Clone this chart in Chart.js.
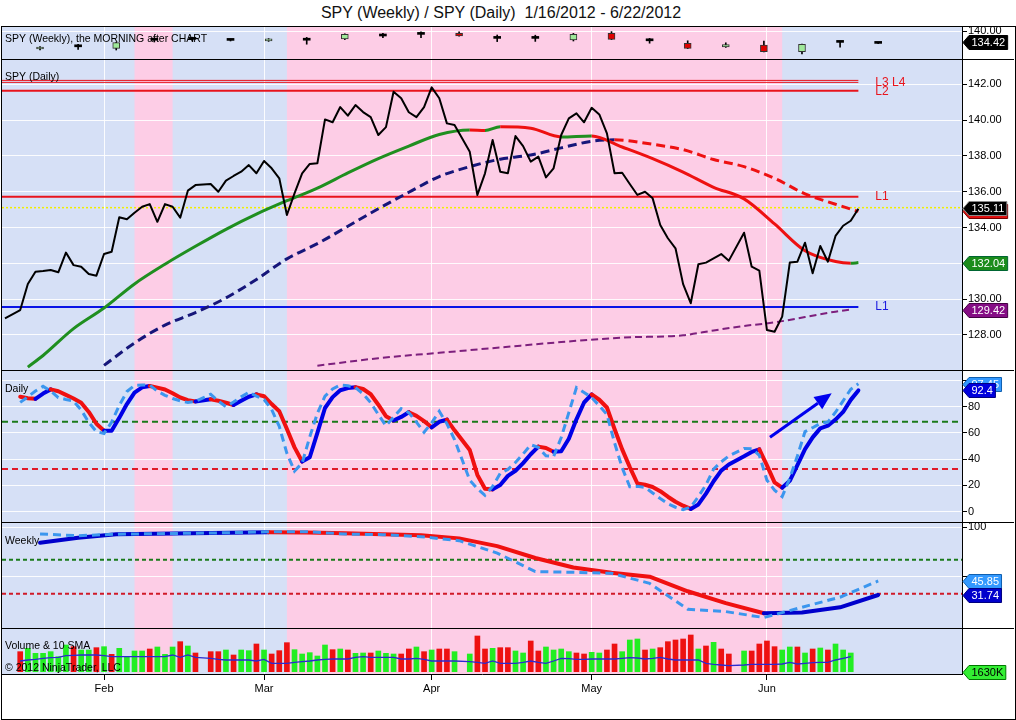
<!DOCTYPE html>
<html>
<head>
<meta charset="utf-8">
<title>SPY (Weekly) / SPY (Daily)</title>
<script src="https://cdn.jsdelivr.net/npm/chart.js@4.4.1/dist/chart.umd.min.js"></script>
<style>
  html, body { margin: 0; padding: 0; background: #fff; }
  #wrap { position: relative; width: 1016px; height: 720px; overflow: hidden; font-family: 'Liberation Sans', Arial, sans-serif; }
  #title { position: absolute; left: 0; top: 4px; width: 1002px; text-align: center; font-size: 16px; white-space: pre; color: #111; }
  #frame { position: absolute; left: 1px; top: 26px; width: 1013px; height: 692px; border: 1px solid #000; }
  .panel { position: absolute; left: 2px; width: 1012px; }
  .panel.sep { border-top: 1px solid #000; }
  canvas { display: block; }
</style>
</head>
<body>
<div id="wrap">
  <div id="title">SPY (Weekly) / SPY (Daily)  1/16/2012 - 6/22/2012</div>
  <div id="frame"></div>
  <div class="panel" style="top:27px;height:32px"><canvas id="strip"></canvas></div>
  <div class="panel sep" style="top:59px;height:310px"><canvas id="price"></canvas></div>
  <div class="panel sep" style="top:370px;height:151px"><canvas id="daily"></canvas></div>
  <div class="panel sep" style="top:522px;height:105px"><canvas id="weekly"></canvas></div>
  <div class="panel sep" style="top:628px;height:89px"><canvas id="volume"></canvas></div>
</div>
<script>
// ---- calendar (weekday slots counted from Mon 1/16/2012) ----
const holidays = ['2012-01-16', '2012-02-20', '2012-04-06', '2012-05-28'];
const monthLabels = ['Feb', 'Mar', 'Apr', 'May', 'Jun'];
const pinkBands = [[16, 21], [36, 101]];

// ---- daily closes, 1/13 .. 6/19 ----
const closes = [128.93,
  129.39,130.84,131.53,131.57,131.63,131.5,132.6,131.9,131.81,131.4,131.31,132.52,132.65,134.57,134.46,134.83,135.16,135.31,134.32,135.31,135.16,134.55,136.06,136.37,
  136.43,136.0,136.62,136.88,137.12,137.49,137.03,137.72,137.31,136.75,134.7,135.91,137.03,137.55,137.59,140.04,139.88,140.73,140.25,140.84,140.45,140.17,139.17,139.61,141.59,141.22,140.44,140.17,140.73,141.83,141.22,139.82,139.73,
  138.23,135.82,137.03,138.89,137.12,137.03,139.11,138.55,137.68,137.96,136.8,137.31,139.17,140.1,140.38,139.88,140.69,140.32,139.26,137.03,137.06,136.43,135.82,136.0,135.63,134.14,133.4,132.84,130.84,129.77,131.95,132.04,132.28,132.52,132.15,
  133.71,131.81,131.59,128.27,128.18,129.02,132.04,132.09,133.15,131.44,132.97,132.09,133.53,134.1,134.38,135.05];
const lastPrice = 135.11;

// moving averages read at selected slots
const ma50Slots = [2,4,8,12,16,20,24,28,32,36,40,44,48,52,56,60,62,64,68,72,76,80,84,88,92,96,100,104,108,110,111];
const ma50 = [126.2,126.85,128.35,129.5,130.85,131.95,132.95,133.9,134.75,135.5,136.2,137.05,137.85,138.55,139.2,139.45,139.42,139.63,139.55,139.06,139.12,138.5,137.85,137.1,136.25,135.6,134.2,132.7,132.1,132.0,132.04];
const ma100Slots = [12,16,20,24,28,32,36,40,44,48,52,56,60,64,68,72,76,79,84,88,92,96,100,104,108,111];
const ma100 = [126.3,127.55,128.55,129.25,130.07,131.1,132.25,133.1,134.07,135.05,135.97,136.85,137.4,137.82,138.05,138.45,138.82,138.9,138.65,138.35,137.8,137.4,136.75,135.88,135.3,134.9];
const ma200Slots = [40,48,56,64,72,80,88,92,96,100,104,108,110];
const ma200 = [126.28,126.7,127.0,127.3,127.6,127.85,127.98,128.25,128.5,128.7,129.0,129.3,129.42];

// horizontal levels
const levelValues = [142.22, 142.11, 141.64, 135.72, 129.56];
const levelEndSlot = 111;

// daily oscillator, 1/17 .. 6/19
const dailySolid = [87.6,86.5,86,90,93.2,91.8,89,86.2,83,76,67,61.7,61.7,71.5,82,90.8,94.8,95.8,94.5,93.1,90.2,87,85,84,
  85.6,84.5,83,81.3,84.5,87.6,89.4,88,82,76.6,63,49,38.2,41.5,60,79,87.3,92.5,94.2,94.8,93.5,89.5,81.5,72.8,69.5,72.2,75.8,73,69,64.3,68.5,70.2,62,
  47,28,17.5,17,20.3,27.3,31.2,37,43.8,49.6,48.5,45.7,46,55.6,70.4,83.2,89.3,85.3,79.4,63,47.5,34,21.5,20.5,18.8,15.6,11.4,7.6,4.6,2.1,5.5,13.8,23.2,31.3,36,
  42.2,45.5,47.5,35.3,22.3,18.3,23.5,35.5,47.7,56.6,63.5,65.5,70.2,76,85.2,92.4];
const dailyDashed = [83.3,87.5,92,95.5,92,87,85.5,84.3,77.5,68,61,59.6,68.2,81,91.5,96.2,96.5,96.5,91.8,88.7,86.2,84.5,83.2,84,
  89.5,84.3,80,83.5,87.5,91,88,85.5,77.8,65,44.5,31,37,57,75,88,93.5,96.5,96,94.5,89.8,83,74,65.5,72,78.5,75.5,68.3,60.5,67.7,76.5,67,55,
  24,17.5,12.5,19.3,29.2,32.2,37.5,44,51,49,42.6,42,56.5,75.5,94.5,90.8,87,80.7,74,52.5,33.5,19,19.3,18.5,14.3,10,6,3.4,1.6,3.5,11.5,20.5,32.4,38,42.5,
  48.2,48,43,24,16.4,11.5,25.5,42.5,61,64,67.3,68.3,75.8,84.5,93.3,97.45];
const dailyBands = [68.5, 32.5];
const arrowFrom = { x: 99.4, y: 56.7 }, arrowTo = { x: 107.5, y: 90.2 };

// weekly bars (strip) and weekly oscillator
const weeklyOpen  = [131.0,132.1,131.35,135.4,135.8,135.7,135.1,135.4,136.0,137.5,138.3,138.85,136.3,136.3,135.5,138.85,135.1,133.85,132.0,133.0,129.7,134.3,133.8];
const weeklyHigh  = [132.2,133.3,134.4,136.5,136.9,136.0,136.2,136.8,138.6,138.8,139.6,139.6,138.0,137.9,138.8,139.7,136.3,135.1,134.1,135.0,133.5,134.5,134.1];
const weeklyLow   = [130.5,130.8,130.5,134.5,134.9,135.0,134.8,133.4,135.7,136.7,136.7,137.4,134.7,134.8,135.0,135.7,133.9,131.2,131.8,129.5,128.5,131.9,133.7];
const weeklyClose = [131.85,132.2,134.15,135.6,135.9,135.3,135.9,135.6,138.35,137.8,138.4,137.5,136.4,136.4,138.3,135.85,135.2,131.35,133.2,129.7,133.3,134.4,134.0];
const weeklyLast = 134.42;
const weeklySolid  = [84.5,89.5,93,93.5,94,94.5,95,94.8,94,93,92,88.8,81,69,59.5,54.2,50.2,35.5,23.5,13.3,14,19.3,31.74];
const weeklyDashed = [93.2,91.5,93,93.5,94,94.5,95.5,95.5,93.2,92.5,90.5,86.5,74,55.3,54.6,53.6,43.5,17.4,15,9,19.4,29.5,45.85];
const weeklyBands = [67.3, 33];

// volume (millions), 1/17 .. 6/18, g = up bar, r = down bar
const volume = [120,140,110,110,120,90,160,150,130,130,144,150,104,140,90,124,124,136,148,104,148,180,154,112,
  120,120,130,100,130,126,166,130,106,126,174,132,106,114,94,160,132,136,130,110,112,112,124,110,106,106,136,148,120,130,136,136,120,
  106,214,136,140,144,144,124,112,184,124,148,130,136,120,112,106,116,112,130,166,120,190,196,130,136,144,180,190,196,220,136,154,176,136,106,
  124,124,166,184,150,130,148,148,112,136,142,130,166,130,112];
const volumeDir = 'rggggggrggrgrggggrgggrgr' + 'rrgrggrgrrrgggggrgrggrgggrrgrgrrg' + 'grrgrrggrrggggrrggrrgggrgrrrrrgrgrr' + 'grrrrggrgrgrggg';
const volumeSma = [64,70,74,80,84,86,96,98,100,100,100,96,90,90,90,90,90,90,90,90,100,86,100,86,
  80,74,70,70,70,70,64,74,50,50,50,56,60,64,70,74,76,76,76,86,90,86,86,86,86,76,76,80,74,64,64,64,64,
  60,56,50,64,50,50,50,56,64,56,50,64,80,78,74,74,76,76,76,76,80,84,82,76,80,86,76,70,70,70,70,50,44,40,36,
  40,44,44,44,44,46,56,46,50,54,56,56,70,80,90];
const volumeTag = '1630K';

// axis ticks (value, label)
const priceTicks = [128, 130, 132, 134, 136, 138, 140, 142];
const stripTicks = [140];
const dailyTicks = [0, 20, 40, 60, 80, 100];
const dailyTickLabels = ['0', '20', '40', '60', '80', ''];
const weeklyTicks = [50, 100];
const weeklyTickLabels = ['', '100'];

// ---- build trading days ----
function buildDays() {
  const days = [];
  const d = new Date(Date.UTC(2012, 0, 13));
  const end = Date.UTC(2012, 5, 19);
  let slot = -1;
  while (d.getTime() <= end) {
    const wd = d.getUTCDay();
    if (wd >= 1 && wd <= 5) {
      const iso = d.toISOString().slice(0, 10);
      if (!holidays.includes(iso)) days.push({ date: iso, month: d.getUTCMonth(), slot: slot });
      slot++;
    }
    d.setUTCDate(d.getUTCDate() + 1);
  }
  return days;
}
const days = buildDays();
const oscDays = days.slice(1);
const volDays = days.slice(1, 1 + volume.length);
const monthTicks = [];
days.forEach((d, i) => { if (i > 0 && d.month !== days[i - 1].month) monthTicks.push(d.slot); });
const weekSlots = weeklyOpen.map((_, k) => 3.6 + 5 * k);

const xMin = -1.39, xMax = 124.6;
const BLUE_BG = '#d6e0f6', PINK_BG = '#fdcde6';
const GRID = 'rgba(255,255,255,0.9)';
const RED = '#ee1111';
const NOTE_FONT = "10.5px 'Liberation Sans', Arial, sans-serif";

Chart.defaults.font.family = "'Liberation Sans', Arial, sans-serif";
Chart.defaults.font.size = 11;
Chart.defaults.color = '#000';
Chart.defaults.animation = false;
Chart.defaults.elements.point.radius = 0;
Chart.defaults.elements.line.tension = 0;

// ---- plugins ----
const bandsPlugin = {
  id: 'bands',
  beforeDraw(chart) {
    const { ctx, chartArea: a, scales: { x } } = chart;
    ctx.save();
    ctx.fillStyle = BLUE_BG;
    ctx.fillRect(a.left, a.top, a.width, a.height);
    ctx.fillStyle = PINK_BG;
    pinkBands.forEach(([s0, s1]) => {
      const x0 = Math.max(a.left, x.getPixelForValue(s0));
      const x1 = Math.min(a.right, x.getPixelForValue(s1));
      ctx.fillRect(x0, a.top, x1 - x0, a.height);
    });
    ctx.restore();
  }
};

const notesPlugin = {
  id: 'notes',
  afterDraw(chart, args, opts) {
    const { ctx, chartArea: a, scales: { x, y } } = chart;
    ctx.save();
    ctx.textBaseline = 'middle';
    (opts.texts || []).forEach(t => {
      ctx.font = NOTE_FONT;
      ctx.fillStyle = '#000';
      ctx.fillText(t.text, a.left + 3, a.top + t.dy);
    });
    (opts.levels || []).forEach(l => {
      ctx.font = "12px 'Liberation Sans', Arial, sans-serif";
      ctx.fillStyle = l.color;
      ctx.fillText(l.text, x.getPixelForValue(levelEndSlot) + 17, y.getPixelForValue(l.value));
    });
    if (opts.arrow) {
      const x0 = x.getPixelForValue(opts.arrow.from.x), y0 = y.getPixelForValue(opts.arrow.from.y);
      const x1 = x.getPixelForValue(opts.arrow.to.x), y1 = y.getPixelForValue(opts.arrow.to.y);
      const ang = Math.atan2(y1 - y0, x1 - x0), len = 17, half = 7.5;
      const bx = x1 - len * Math.cos(ang), by = y1 - len * Math.sin(ang);
      ctx.strokeStyle = '#0000ee'; ctx.fillStyle = '#0000ee'; ctx.lineWidth = 3;
      ctx.beginPath(); ctx.moveTo(x0, y0); ctx.lineTo(bx, by); ctx.stroke();
      ctx.beginPath();
      ctx.moveTo(x1, y1);
      ctx.lineTo(bx + half * Math.sin(ang), by - half * Math.cos(ang));
      ctx.lineTo(bx - half * Math.sin(ang), by + half * Math.cos(ang));
      ctx.closePath(); ctx.fill();
    }
    ctx.restore();
  }
};

const tagsPlugin = {
  id: 'tags',
  afterDraw(chart, args, opts) {
    const { ctx, chartArea: a, scales: { y } } = chart;
    ctx.save();
    ctx.font = "11px 'Liberation Sans', Arial, sans-serif";
    ctx.textBaseline = 'middle';
    (opts.items || []).forEach(t => {
      const py = Math.round(y.getPixelForValue(t.value)) + 0.5;
      const w = ctx.measureText(t.text).width + 5, h = 14, arrow = 6, x0 = a.right + 1;
      ctx.beginPath();
      ctx.moveTo(x0, py);
      ctx.lineTo(x0 + arrow, py - h / 2);
      ctx.lineTo(x0 + arrow + w, py - h / 2);
      ctx.lineTo(x0 + arrow + w, py + h / 2);
      ctx.lineTo(x0 + arrow, py + h / 2);
      ctx.closePath();
      ctx.fillStyle = t.bg; ctx.fill();
      ctx.lineWidth = 1; ctx.strokeStyle = t.line || '#000'; ctx.stroke();
      ctx.fillStyle = t.fg || '#fff';
      ctx.fillText(t.text, x0 + arrow + 2.5, py + 0.5);
    });
    ctx.restore();
  }
};
Chart.register(bandsPlugin, notesPlugin, tagsPlugin);

// scales must not pad the plot area for their outer labels
function noPad(s) { s.paddingTop = 0; s.paddingBottom = 0; s.paddingLeft = 0; s.paddingRight = 0; }

// ---- shared axes ----
function xAxis(showLabels) {
  return {
    type: 'linear', min: xMin, max: xMax, offset: false,
    afterBuildTicks: s => { s.ticks = monthTicks.map(v => ({ value: v })); },
    afterFit: s => { s.height = showLabels ? 44 : 0; noPad(s); },
    grid: { color: GRID, lineWidth: 1, offset: false, drawTicks: showLabels, tickLength: 6, tickColor: '#000' },
    border: { display: showLabels, color: '#000' },
    ticks: { display: showLabels, autoSkip: false, maxRotation: 0, padding: 2, color: '#000',
      callback: (v, i) => monthLabels[i] }
  };
}
function yAxis(min, max, tickList, fmt) {
  return {
    type: 'linear', position: 'right', min: min, max: max,
    afterBuildTicks: s => { s.ticks = tickList.map(v => ({ value: v })); },
    afterFit: s => { s.width = 52; noPad(s); },
    grid: { color: GRID, lineWidth: 1, drawTicks: true, tickLength: 5, tickColor: '#000' },
    border: { display: true, color: '#000' },
    ticks: { padding: 1, color: '#000', callback: fmt }
  };
}
function options(yCfg, showX, plugins) {
  return {
    responsive: true, maintainAspectRatio: false, events: [],
    layout: { padding: 0, autoPadding: false },
    scales: { x: xAxis(showX), y: yCfg },
    plugins: Object.assign({ legend: { display: false }, tooltip: { enabled: false } }, plugins)
  };
}
const slope = (up, down) => ({ borderColor: c => c.p1.parsed.y < c.p0.parsed.y ? down : up });
const flat = (v, x1) => [{ x: xMin, y: v }, { x: x1, y: v }];
const pairs = (slots, vals) => vals.map((v, i) => ({ x: slots[i], y: v }));

// ---- weekly strip ----
new Chart(document.getElementById('strip'), {
  type: 'line',
  data: { datasets: [
    { type: 'bar', order: 0, grouped: false, barThickness: 7, minBarLength: 2, borderSkipped: false,
      data: weeklyOpen.map((o, k) => ({ x: weekSlots[k], y: [o, weeklyClose[k]] })),
      backgroundColor: weeklyOpen.map((o, k) => Math.abs(weeklyClose[k] - o) < 0.5 ? '#000' : (weeklyClose[k] > o ? '#9fe89a' : '#e00000')),
      borderColor: '#333', borderWidth: weeklyOpen.map((o, k) => Math.abs(weeklyClose[k] - o) < 0.5 ? 0 : 1) },
    { type: 'bar', order: 1, grouped: false, barThickness: 1, borderSkipped: false, backgroundColor: '#000',
      data: weeklyLow.map((l, k) => ({ x: weekSlots[k], y: [l, weeklyHigh[k]] })) }
  ] },
  options: options(yAxis(126, 142, stripTicks, v => v.toFixed(2)), false, {
    notes: { texts: [{ text: 'SPY (Weekly), the MORNING after CHART', dy: 12 }] },
    tags: { items: [{ value: weeklyLast, text: weeklyLast.toFixed(2), bg: '#000' }] }
  })
});

// ---- price panel ----
const levelColors = ['#e8141c', '#e8141c', '#e8141c', '#e8141c', '#0a14e6'];
const levelWidths = [1, 1, 2, 2, 2];
new Chart(document.getElementById('price'), {
  type: 'line',
  data: { datasets: [
    { order: 0, data: days.map((d, i) => ({ x: d.slot, y: closes[i] })), borderColor: '#000', borderWidth: 2, borderJoinStyle: 'round' },
    { order: 1, data: pairs(ma50Slots, ma50), borderWidth: 3, borderColor: '#1f8f1f', segment: slope('#1f8f1f', RED), cubicInterpolationMode: 'monotone' },
    { order: 2, data: pairs(ma100Slots, ma100), borderWidth: 3, borderDash: [9, 5], borderColor: '#16167a', segment: slope('#16167a', RED), cubicInterpolationMode: 'monotone' },
    { order: 3, data: pairs(ma200Slots, ma200), borderWidth: 2, borderDash: [7, 4], borderColor: '#7d1f7d', cubicInterpolationMode: 'monotone' },
    ...levelValues.map((v, i) => ({ order: 4, data: flat(v, levelEndSlot), borderColor: levelColors[i], borderWidth: levelWidths[i] })),
    { order: 5, data: flat(lastPrice, xMax), borderColor: '#f2ee00', borderWidth: 1.5, borderDash: [2, 2] }
  ] },
  options: options(yAxis(126.04, 143.36, priceTicks, v => v.toFixed(2)), false, {
    notes: {
      texts: [{ text: 'SPY (Daily)', dy: 17 }],
      levels: [
        { text: 'L3 L4', value: (levelValues[0] + levelValues[1]) / 2 - 0.05, color: '#e8141c' },
        { text: 'L2', value: levelValues[2] - 0.05, color: '#e8141c' },
        { text: 'L1', value: levelValues[3], color: '#e8141c' },
        { text: 'L1', value: levelValues[4], color: '#1a1ae0' }
      ]
    },
    tags: { items: [
      { value: ma100[ma100.length - 1], text: ma100[ma100.length - 1].toFixed(2), bg: '#e01010', line: '#700' },
      { value: lastPrice, text: lastPrice.toFixed(2), bg: '#000', line: '#888' },
      { value: ma50[ma50.length - 1], text: ma50[ma50.length - 1].toFixed(2), bg: '#1b8c1b', line: '#063' },
      { value: ma200[ma200.length - 1], text: ma200[ma200.length - 1].toFixed(2), bg: '#850d85', line: '#404' }
    ] }
  })
});

// ---- daily oscillator ----
new Chart(document.getElementById('daily'), {
  type: 'line',
  data: { datasets: [
    { order: 0, data: oscDays.map((d, i) => ({ x: d.slot, y: dailyDashed[i] })), borderColor: '#3b96ee', borderWidth: 3, borderDash: [8, 5] },
    { order: 1, data: oscDays.map((d, i) => ({ x: d.slot, y: dailySolid[i] })), borderWidth: 4, borderColor: '#0000e6', segment: slope('#0000e6', '#f01010'), borderJoinStyle: 'round', borderCapStyle: 'round' },
    { order: 2, data: flat(dailyBands[0], xMax), borderColor: '#1a7a1a', borderWidth: 2, borderDash: [6, 4] },
    { order: 2, data: flat(dailyBands[1], xMax), borderColor: '#e01a28', borderWidth: 2, borderDash: [6, 4] }
  ] },
  options: options(yAxis(-7.85, 107.2, dailyTicks, (v, i) => dailyTickLabels[i]), false, {
    notes: { texts: [{ text: 'Daily', dy: 18 }], arrow: { from: arrowFrom, to: arrowTo } },
    tags: { items: [
      { value: dailyDashed[dailyDashed.length - 1], text: dailyDashed[dailyDashed.length - 1].toFixed(2), bg: '#3399ff', line: '#1060b0' },
      { value: dailySolid[dailySolid.length - 1], text: String(dailySolid[dailySolid.length - 1]), bg: '#0000dd', line: '#000080' }
    ] }
  })
});

// ---- weekly oscillator ----
new Chart(document.getElementById('weekly'), {
  type: 'line',
  data: { datasets: [
    { order: 0, data: weeklyDashed.map((v, k) => ({ x: weekSlots[k], y: v })), borderColor: '#3b96ee', borderWidth: 3, borderDash: [8, 5] },
    { order: 1, data: weeklySolid.map((v, k) => ({ x: weekSlots[k], y: v })), borderWidth: 4, borderColor: '#0000cc', segment: slope('#0000cc', '#f01010'), borderJoinStyle: 'round', borderCapStyle: 'round' },
    { order: 2, data: flat(weeklyBands[0], xMax), borderColor: '#1a7a1a', borderWidth: 2, borderDash: [4, 3] },
    { order: 2, data: flat(weeklyBands[1], xMax), borderColor: '#d01a28', borderWidth: 2, borderDash: [4, 3] }
  ] },
  options: options(yAxis(-1.53, 104.3, weeklyTicks, (v, i) => weeklyTickLabels[i]), false, {
    notes: { texts: [{ text: 'Weekly', dy: 18 }] },
    tags: { items: [
      { value: weeklyDashed[weeklyDashed.length - 1], text: weeklyDashed[weeklyDashed.length - 1].toFixed(2), bg: '#3399ff', line: '#1060b0' },
      { value: weeklySolid[weeklySolid.length - 1], text: weeklySolid[weeklySolid.length - 1].toFixed(2), bg: '#0000cc', line: '#000080' }
    ] }
  })
});

// ---- volume ----
const volY = yAxis(-14, 256, [], v => '');
volY.grid.display = false;
volY.ticks.display = false;
new Chart(document.getElementById('volume'), {
  type: 'line',
  data: { datasets: [
    { order: 0, data: volDays.map((d, i) => ({ x: d.slot, y: volumeSma[i] })), borderColor: '#2a2ad0', borderWidth: 1.3 },
    { type: 'bar', order: 1, grouped: false, barThickness: 5, borderWidth: 0,
      data: volDays.map((d, i) => ({ x: d.slot, y: volume[i] })),
      backgroundColor: volDays.map((d, i) => volumeDir[i] === 'g' ? '#22ee22' : '#ee1111') }
  ] },
  options: options(volY, true, {
    notes: { texts: [{ text: 'Volume & 10 SMA', dy: 17 }, { text: '\u00a9 2012 NinjaTrader, LLC', dy: 39 }] },
    tags: { items: [{ value: 0, text: volumeTag, bg: '#33ee33', fg: '#000', line: '#070' }] }
  })
});
</script>
</body>
</html>
